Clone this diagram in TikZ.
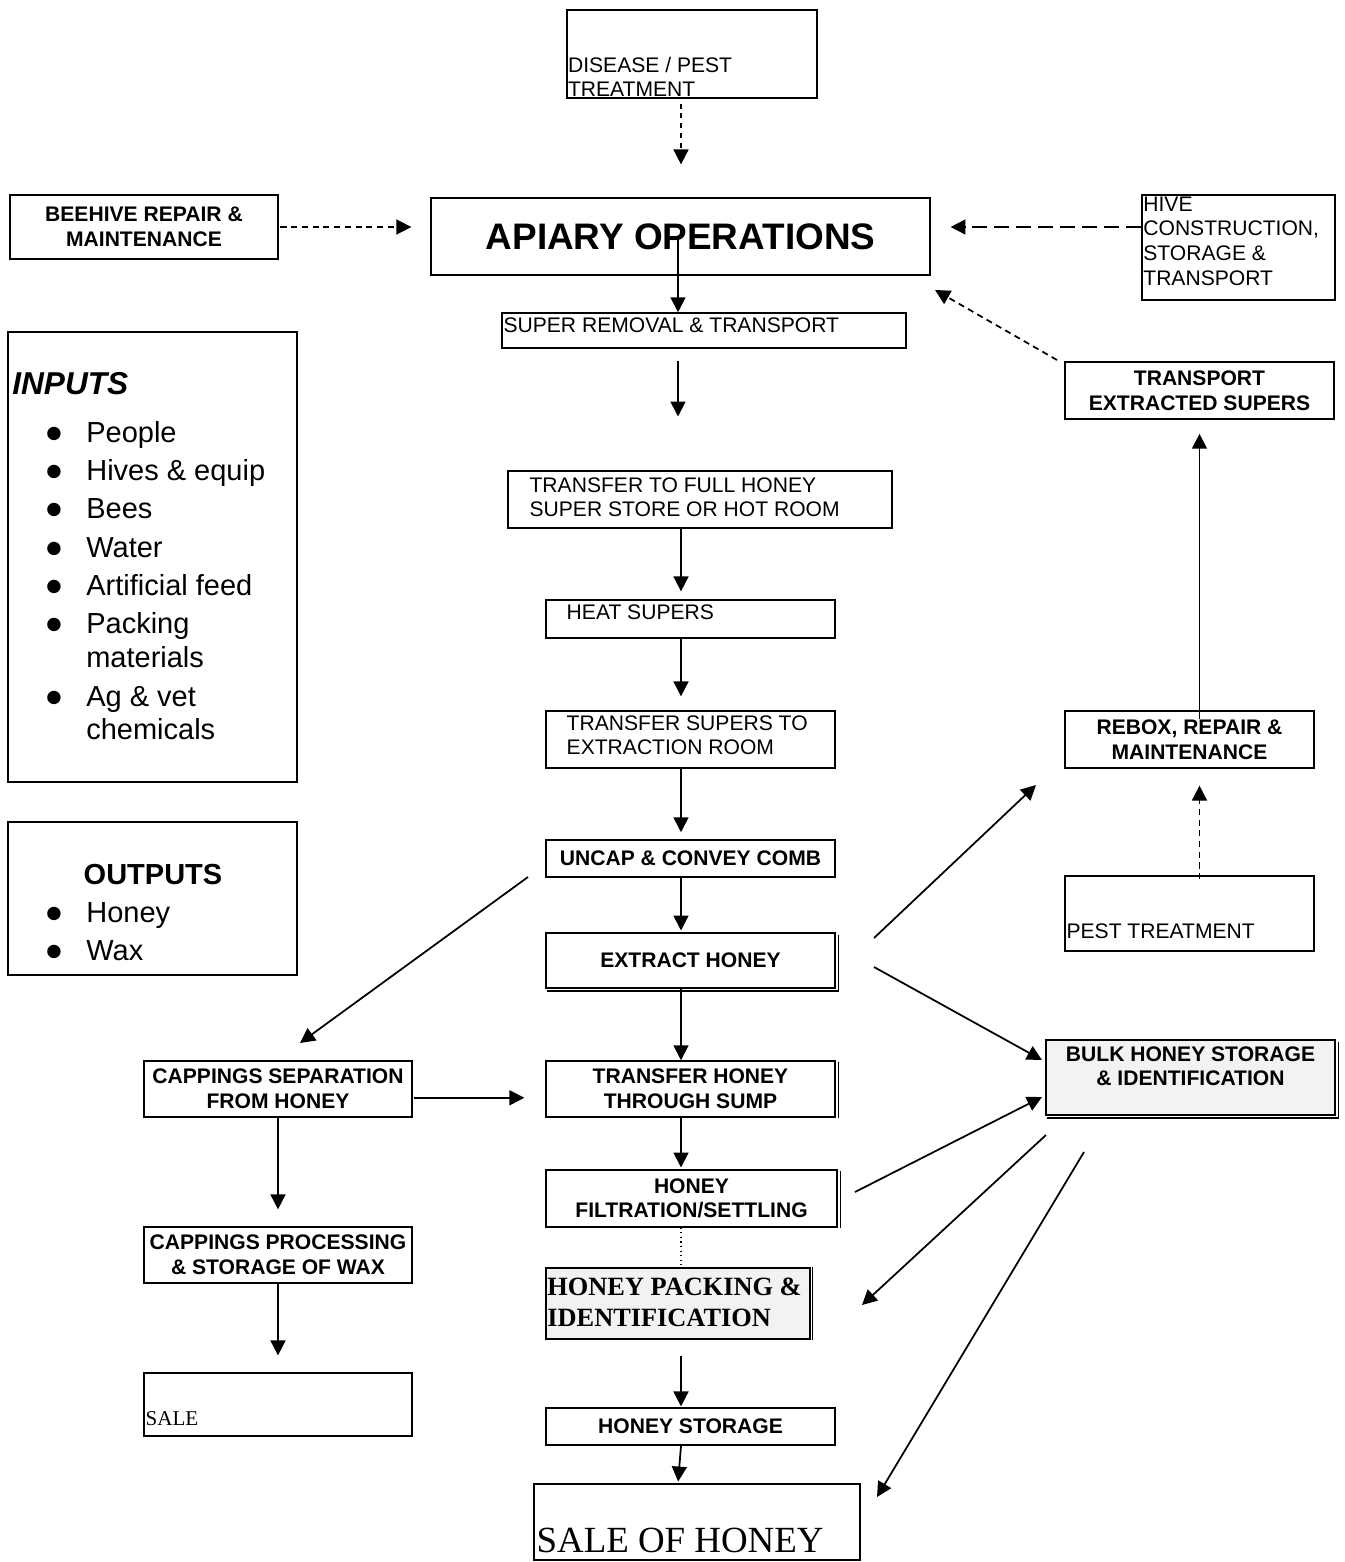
\documentclass[tikz,border=0pt]{standalone}
\usepackage{fontspec}
\setmainfont{Liberation Sans}
\newfontfamily\timesfont{Liberation Serif}
\newfontfamily\symfont{DejaVu Sans}
\usetikzlibrary{arrows.meta}
\definecolor{boxgray}{RGB}{242,242,242}
\newcommand{\itm}{\makebox[0.8cm][l]{\raisebox{2.3pt}{\symfont\fontsize{10}{12}\selectfont ●}}}
\newcommand{\noitm}{\makebox[0.8cm][l]{}}

\begin{document}
\begin{tikzpicture}[x=0.02cm, y=-0.02cm,
    box/.style={draw, line width=0.85pt, inner sep=0pt},
    bx/.style={box, align=center, font=\fontsize{12}{14}\selectfont\bfseries},
    txt/.style={inner sep=0pt, align=left, font=\fontsize{12}{13.8}\selectfont},
    arr/.style={-{Triangle[length=8.5pt,width=8.5pt]}, line width=1pt},
    dsh/.style={arr, dash pattern=on 3.5pt off 2.6pt},
    dshl/.style={arr, dash pattern=on 8.5pt off 4pt}]
    \useasboundingbox (0,0) rectangle (1345,1562);

    \coordinate (spine) at (681,0);
    \coordinate (spinel) at (678,0);

    \node[box, minimum width=5cm, minimum height=1.76cm, label={[txt, anchor=south west, xshift=0.8pt, yshift=1pt]south west:DISEASE / PEST\\TREATMENT}] (disease) at (692,54) {};
    \node[box, minimum width=9.98cm, minimum height=1.54cm, font=\fontsize{21}{25}\selectfont\bfseries] (apiary) at (680.5,236.5) {APIARY OPERATIONS};
    \node[bx, minimum width=5.36cm, minimum height=1.28cm] (beehive) at (144,227) {BEEHIVE REPAIR \&\\MAINTENANCE};
    \node[box, minimum width=3.86cm, minimum height=2.1cm, label={[txt, anchor=north west, xshift=1pt, yshift=-1.2pt, font=\fontsize{12}{14}\selectfont]north west:HIVE\\CONSTRUCTION,\\STORAGE \&\\TRANSPORT}] (hive) at (1238.5,247.5) {};
    \node[box, minimum width=8.08cm, minimum height=0.7cm, label={[txt, anchor=north west, xshift=1.1pt, yshift=-2.8pt]north west:SUPER REMOVAL \& TRANSPORT}] (remove) at (704,330.5) {};
    \node[box, minimum width=7.68cm, minimum height=1.14cm, label={[txt, anchor=north west, xshift=12.5pt, yshift=-4pt]north west:TRANSFER TO FULL HONEY\\SUPER STORE OR HOT ROOM}] (full) at (700,499.5) {};
    \node[box, minimum width=5.78cm, minimum height=0.76cm, label={[txt, anchor=north west, xshift=12pt, yshift=-2.8pt]north west:HEAT SUPERS}] (heat) at (690.5,619) {};
    \node[box, minimum width=5.78cm, minimum height=1.14cm, label={[txt, anchor=north west, xshift=12pt, yshift=-2.8pt]north west:TRANSFER SUPERS TO\\EXTRACTION ROOM}] (tsup) at (690.5,739.5) {};
    \node[bx, minimum width=5.78cm, minimum height=0.74cm] (uncap) at (690.5,858.5) {UNCAP \& CONVEY COMB};
    \node[bx, minimum width=5.78cm, minimum height=1.1cm] (extract) at (690.5,960.5) {EXTRACT HONEY};
    \node[bx, minimum width=5.78cm, minimum height=1.12cm] (sump) at (690.5,1089) {TRANSFER HONEY\\THROUGH SUMP};
    \node[bx, minimum width=5.82cm, minimum height=1.14cm] (filt) at (691.5,1198.5) {HONEY\\FILTRATION/SETTLING};
    \node[box, fill=boxgray, minimum width=5.28cm, minimum height=1.42cm, label={[txt, anchor=north west, xshift=1pt, yshift=-5.7pt, font=\timesfont\fontsize{15}{18}\selectfont\bfseries]north west:HONEY PACKING \&\\IDENTIFICATION}] (pack) at (678,1303.5) {};
    \node[bx, minimum width=5.78cm, minimum height=0.74cm] (store) at (690.5,1426.5) {HONEY STORAGE};
    \node[box, minimum width=6.52cm, minimum height=1.52cm, label={[txt, anchor=south west, xshift=1.7pt, yshift=4.5pt, font=\timesfont\fontsize{21}{25}\selectfont]south west:SALE OF HONEY}] (salehoney) at (697,1522) {};

    \node[box, minimum width=5.78cm, minimum height=9cm] (inputs) at (152.5,557) {};
    \node[anchor=north west, inner sep=0pt, font=\fontsize{18}{20}\selectfont\bfseries\itshape] (inhead) at (12,372) {INPUTS};
    \node[anchor=north west, inner sep=0pt, align=left, font=\fontsize{16.5}{19.3}\selectfont] (inlist) at (46,421) {\itm People\\[2.5pt]\itm Hives \& equip\\[2.5pt]\itm Bees\\[2.5pt]\itm Water\\[2.5pt]\itm Artificial feed\\[2.5pt]\itm Packing\\\noitm materials\\[2.5pt]\itm Ag \& vet\\\noitm chemicals};
    \node[box, minimum width=5.78cm, minimum height=3.06cm] (outputs) at (152.5,898.5) {};
    \node[font=\fontsize{16.5}{19}\selectfont\bfseries, inner sep=0pt] (outhead) at (153,875) {OUTPUTS};
    \node[anchor=north west, inner sep=0pt, align=left, font=\fontsize{16.5}{19.3}\selectfont] (outlist) at (46,902) {\itm Honey\\[2.5pt]\itm Wax};

    \node[bx, minimum width=5.36cm, minimum height=1.12cm] (sep) at (278,1089) {CAPPINGS SEPARATION\\FROM HONEY};
    \node[bx, minimum width=5.36cm, minimum height=1.12cm] (proc) at (278,1255) {CAPPINGS PROCESSING\\\& STORAGE OF WAX};
    \node[box, minimum width=5.36cm, minimum height=1.26cm, label={[txt, anchor=south west, xshift=1.1pt, yshift=6.2pt, font=\timesfont\fontsize{12}{14}\selectfont]south west:SALE}] (sale) at (278,1404.5) {};

    \node[bx, minimum width=5.38cm, minimum height=1.14cm] (transp) at (1199.5,390.5) {TRANSPORT\\EXTRACTED SUPERS};
    \node[bx, minimum width=4.98cm, minimum height=1.14cm] (rebox) at (1189.5,739.5) {REBOX, REPAIR \&\\MAINTENANCE};
    \node[box, minimum width=4.98cm, minimum height=1.5cm, label={[txt, anchor=south west, xshift=1.1pt, yshift=7.4pt]south west:PEST TREATMENT}] (pest) at (1189.5,913.5) {};
    \node[box, fill=boxgray, minimum width=5.78cm, minimum height=1.5cm, label={[txt, anchor=north, yshift=-4pt, align=center, font=\fontsize{12}{14}\selectfont\bfseries]north:BULK HONEY STORAGE\\\& IDENTIFICATION}] (bulk) at (1190.5,1077.5) {};

    \draw[line width=0.85pt] ([shift={(3,3)}]extract.north east) -- ([shift={(3,2)}]extract.south east) -- ([shift={(2,2)}]extract.south west);
    \draw[line width=0.85pt] ([shift={(3,2)}]sump.north east) -- ([shift={(3,0)}]sump.south east);
    \draw[line width=0.85pt] ([shift={(3,2)}]filt.north east) -- ([shift={(3,0)}]filt.south east);
    \draw[line width=0.85pt] ([shift={(2,0)}]pack.north east) -- ([shift={(2,0)}]pack.south east);
    \draw[line width=0.85pt] ([shift={(3,3)}]bulk.north east) -- ([shift={(3,2)}]bulk.south east) -- ([shift={(2,2)}]bulk.south west);

    \coordinate (hivetail) at (1141,227);
    \coordinate (uncapout) at (528,877);
    \coordinate (sepin) at (300,1043);
    \coordinate (transpout) at (1057,360);
    \coordinate (apiaryin) at (935,290);
    \coordinate (exout1) at (874,938);
    \coordinate (reboxin) at (1036,785);
    \coordinate (exout2) at (874,967);
    \coordinate (bulkin1) at (1042,1060);
    \coordinate (filtout) at (855,1192);
    \coordinate (bulkin2) at (1042,1097);
    \coordinate (bulkout1) at (1046,1135);
    \coordinate (packin) at (862,1305);
    \coordinate (bulkout2) at (1084,1152);
    \coordinate (salein) at (877,1497);

    \draw[dsh, dash pattern=on 2.8pt off 2.8pt, shorten <=2.8pt, shorten >=18.7pt] (disease.south -| spine) -- (apiary.north -| spine);
    \draw[dsh, shorten <=1pt, shorten >=10.8pt] (beehive.east) -- (beehive.east -| apiary.west);
    \draw[dshl, shorten >=11.3pt] (hivetail) -- (hivetail -| apiary.east);
    \draw[arr] (apiary.center -| spinel) -- (remove.north -| spinel);
    \draw[arr, shorten <=6.8pt, shorten >=30.6pt] (remove.south -| spinel) -- (full.north -| spinel);
    \draw[arr, shorten >=4.5pt] (full.south -| spine) -- (heat.north -| spine);
    \draw[arr, shorten >=7.9pt] (heat.south -| spine) -- (tsup.north -| spine);
    \draw[arr, shorten >=4pt] (tsup.south -| spine) -- (uncap.north -| spine);
    \draw[arr, shorten >=1pt] (uncap.south -| spine) -- (extract.north -| spine);
    \draw[arr] (extract.south -| spine) -- (sump.north -| spine);
    \draw[arr, shorten >=1pt] (sump.south -| spine) -- (filt.north -| spine);
    \draw[dotted, line width=0.6pt] (filt.south -| spine) -- (pack.north -| spine);
    \draw[arr, shorten <=9pt, shorten >=0.5pt] (pack.south -| spine) -- (store.north -| spine);
    \draw[arr, shorten >=1pt] (store.south -| spine) -- (salehoney.north -| spinel);

    \draw[arr] (uncapout) -- (sepin);
    \draw[arr, shorten <=1pt, shorten >=11.9pt] ([yshift=-5pt]sep.east) -- ([yshift=-5pt]sump.west);
    \draw[arr, shorten >=9.6pt] (sep.south) -- (proc.north);
    \draw[arr, shorten >=9.6pt] (proc.south) -- (sale.north);

    \draw[dsh] (transpout) -- (apiaryin);
    \draw[arr, shorten <=-5pt, shorten >=8pt] (transp.south |- rebox.north) -- (transp.south);
    \draw[dsh, shorten <=-2.3pt, shorten >=9.6pt] (transp.south |- pest.north) -- (transp.south |- rebox.south);
    \draw[arr] (exout1) -- (reboxin);
    \draw[arr] (exout2) -- (bulkin1);
    \draw[arr] (filtout) -- (bulkin2);
    \draw[arr] (bulkout1) -- (packin);
    \draw[arr] (bulkout2) -- (salein);
\end{tikzpicture}
\end{document}
